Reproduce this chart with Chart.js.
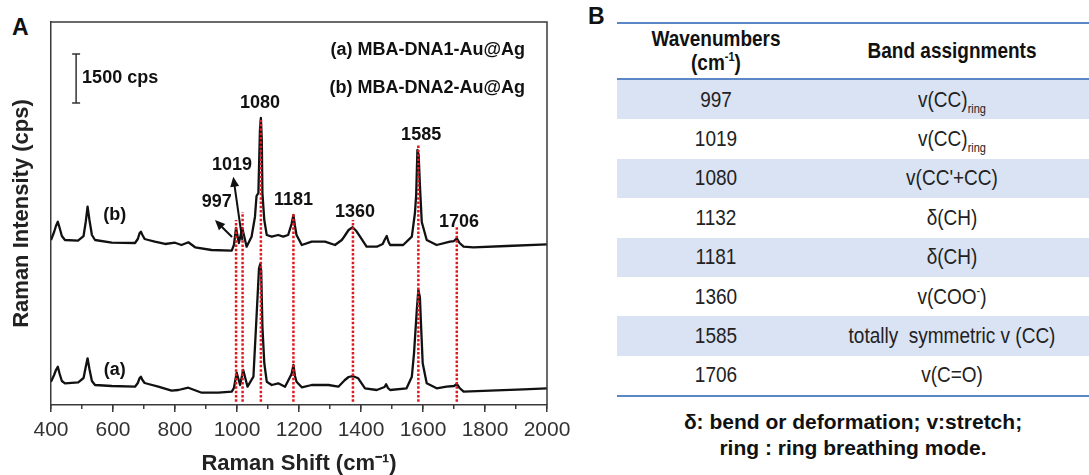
<!DOCTYPE html>
<html>
<head>
<meta charset="utf-8">
<script src="https://cdn.jsdelivr.net/npm/chart.js@4.4.1/dist/chart.umd.min.js"></script>
<style>
  html, body { margin:0; padding:0; background:#fff; }
  body { width:1089px; height:475px; position:relative; overflow:hidden; font-family:Arial, "Liberation Sans", sans-serif; color:#222; }
  #panelA { position:absolute; left:0; top:0; width:580px; height:475px; }
  .letter { position:absolute; font-weight:bold; font-size:23px; color:#111; }
  #bandTable { position:absolute; left:617px; top:22px; width:472px; border-collapse:collapse; }
  #bandTable th, #bandTable td { text-align:center; padding:0; font-size:19px; color:#222; }
  #bandTable th { font-weight:bold; color:#111; height:54px; line-height:20px; }
  #bandTable td { height:39.4px; }
  #bandTable thead tr { border-top:2.5px solid #5b87c7; border-bottom:2.5px solid #5b87c7; }
  #bandTable tbody tr:last-child { border-bottom:2.5px solid #5b87c7; }
  #bandTable tbody tr:nth-child(odd) { background:#dae3f3; }
  .t { display:inline-block; transform:scaleY(1.18); }
  sub, sup { font-size:11px; line-height:0; color:inherit; }
  #note { position:absolute; left:617px; width:472px; top:409px; text-align:center; font-weight:bold; font-size:21px; line-height:26px; color:#111; }
</style>
</head>
<body>
<div class="letter" style="left:12px;top:14px">A</div>
<div id="panelA"><canvas id="raman"></canvas></div>

<div class="letter" style="left:588px;top:3px">B</div>
<table id="bandTable">
  <thead><tr><th style="width:198px"><span class="t">Wavenumbers<br>(cm<sup>-1</sup>)</span></th><th><span class="t">Band assignments</span></th></tr></thead>
  <tbody id="bandBody"></tbody>
</table>
<div id="note">δ: bend or deformation; v:stretch;<br>ring : ring breathing mode.</div>

<script>
// ---- spectrum (b) MBA-DNA2-Au@Ag, offset upward ----
const waveB = [400,410,416,422,428,435,445,487,505,512,518,524,532,542,596,671,680,686,690,695,702,714,735,768,800,821,843,865,918,983,990,997,1006,1017,1031,1047,1058,1063,1069,1074,1077,1080,1082,1088,1096,1112,1133,1149,1165,1176,1182,1187,1192,1209,1241,1284,1316,1338,1345,1360,1373,1385,1397,1418,1451,1470,1476,1483,1489,1494,1536,1564,1574,1578,1582,1586,1590,1596,1612,1644,1687,1700,1709,1718,1731,1762,1870,2000];
const intensB = [5049,5294,5477,5609,5416,5171,5049,5028,5171,5600,6068,5661,5202,5049,4966,4957,5080,5263,5303,5202,5080,5049,4997,4927,4966,4896,4979,4826,4743,4722,4896,5416,4957,5416,4844,5150,5762,6395,6487,8415,8782,8109,6487,5661,5202,5150,5202,5150,5202,5539,5814,5477,5202,4896,4997,4997,4896,5049,5141,5355,5438,5324,5150,4844,4844,4927,5049,5171,4988,4896,4896,5150,5875,6426,7803,7650,6732,5600,5049,4896,4997,5018,5101,4957,4844,4826,4865,4917];

// ---- spectrum (a) MBA-DNA1-Au@Ag ----
const waveA = [400,410,416,422,428,435,445,488,505,512,518,524,532,542,596,671,680,686,690,695,702,714,746,789,811,843,886,940,983,990,999,1010,1020,1034,1053,1063,1071,1075,1078,1082,1088,1096,1112,1133,1155,1176,1182,1187,1192,1209,1241,1295,1327,1348,1360,1373,1391,1413,1451,1476,1481,1487,1494,1547,1564,1571,1580,1585,1590,1593,1599,1612,1644,1676,1700,1709,1718,1731,1816,1924,2000];
const intensA = [713,918,1071,1172,949,734,664,695,826,1163,1429,1102,735,612,581,560,673,826,866,765,673,643,560,438,459,529,376,376,407,520,988,612,1071,560,866,2702,4183,4315,4100,2396,1285,713,612,664,560,949,1224,887,713,542,612,612,560,765,857,887,817,511,459,551,633,520,459,511,866,1582,2907,3519,3300,2601,1276,664,511,560,582,643,520,407,438,480,511];

// ---- marked bands (red dotted guides) ----
const bandWave = [997,1018,1077,1182,1374,1585,1709];
const bandTop = [5661,5906,8721,5875,5661,7956,5447];
const bandBase = 100;
const bandText = ['997','1019','1080','1181','1360','1585','1706'];
const bandTextWave = [935,984,1074,1182,1381,1594,1716];
const bandTextY = [6212,7344,9241,6273,5906,8262,5600];

const xTicks = [400,600,800,1000,1200,1400,1600,1800,2000];

// ---- table B ----
const tableWave = ['997','1019','1080','1132','1181','1360','1585','1706'];
const tableBand = ['v(CC)<sub>ring</sub>','v(CC)<sub>ring</sub>',"v(CC'+CC)",'δ(CH)','δ(CH)','v(COO<sup>-</sup>)','totally&nbsp; symmetric v (CC)','v(C=O)'];

document.getElementById('bandBody').innerHTML = tableWave.map((w,i) =>
  `<tr><td><span class="t">${w}</span></td><td><span class="t">${tableBand[i]}</span></td></tr>`
).join('');

Chart.defaults.font.family = 'Arial, "Liberation Sans", sans-serif';
const INK = '#111';
const AXIS = '#3a3a3a';
const RED = '#e3171f';

// labels, arrows, scale bar and legend text, positioned in data units
const notes = {
  arrows: [ {from:[984,5141], to:[929,5661]}, {from:[1017,5049], to:[988,6986]} ],
  curveTags: [ {text:'(b)', x:606, y:5814}, {text:'(a)', x:606, y:1071} ],
  legend: [ {text:'(a) MBA-DNA1-Au@Ag', x:1929, y:10863}, {text:'(b) MBA-DNA2-Au@Ag', x:1929, y:9700} ],
  scaleBar: {x:481, y0:9241, size:1500, text:'1500 cps'}
};

const annotate = {
  id: 'annotate',
  afterDatasetsDraw(chart) {
    const {ctx, scales:{x, y}} = chart;
    ctx.save();
    ctx.fillStyle = INK; ctx.strokeStyle = INK;
    ctx.font = 'bold 18px Arial, "Liberation Sans", sans-serif';
    ctx.textAlign = 'center'; ctx.textBaseline = 'middle';
    bandText.forEach((t,i) => ctx.fillText(t, x.getPixelForValue(bandTextWave[i]), y.getPixelForValue(bandTextY[i])));

    notes.curveTags.forEach(n => ctx.fillText(n.text, x.getPixelForValue(n.x), y.getPixelForValue(n.y)));

    ctx.textAlign = 'right';
    notes.legend.forEach(n => ctx.fillText(n.text, x.getPixelForValue(n.x), y.getPixelForValue(n.y)));

    // arrows
    ctx.lineWidth = 2;
    notes.arrows.forEach(a => {
      const x1 = x.getPixelForValue(a.from[0]), y1 = y.getPixelForValue(a.from[1]);
      const x2 = x.getPixelForValue(a.to[0]), y2 = y.getPixelForValue(a.to[1]);
      const ang = Math.atan2(y2-y1, x2-x1), L = 11;
      ctx.beginPath(); ctx.moveTo(x1,y1);
      ctx.lineTo(x2 - Math.cos(ang)*L*0.7, y2 - Math.sin(ang)*L*0.7); ctx.stroke();
      ctx.beginPath(); ctx.moveTo(x2,y2);
      ctx.lineTo(x2 - L*Math.cos(ang-0.42), y2 - L*Math.sin(ang-0.42));
      ctx.lineTo(x2 - L*Math.cos(ang+0.42), y2 - L*Math.sin(ang+0.42));
      ctx.closePath(); ctx.fill();
    });

    // scale bar
    const sb = notes.scaleBar;
    const sx = x.getPixelForValue(sb.x), sy0 = y.getPixelForValue(sb.y0), sy1 = y.getPixelForValue(sb.y0 + sb.size);
    ctx.strokeStyle = '#333'; ctx.lineWidth = 1.5;
    ctx.beginPath();
    ctx.moveTo(sx, sy0); ctx.lineTo(sx, sy1);
    ctx.moveTo(sx-4, sy0); ctx.lineTo(sx+4, sy0);
    ctx.moveTo(sx-4, sy1); ctx.lineTo(sx+4, sy1);
    ctx.stroke();
    ctx.textAlign = 'left';
    ctx.fillText(sb.text, sx + 6, (sy0 + sy1) / 2);
    ctx.restore();
  },
  afterDraw(chart) {
    const {ctx, chartArea:a} = chart;
    ctx.save();
    ctx.strokeStyle = AXIS; ctx.lineWidth = 1.5;
    ctx.beginPath();
    ctx.moveTo(a.left, a.top); ctx.lineTo(a.right, a.top); ctx.lineTo(a.right, a.bottom);
    ctx.stroke();
    ctx.restore();
  }
};

const guideSets = bandWave.map((w,i) => ({
  data: [{x:w, y:bandBase}, {x:w, y:bandTop[i]}],
  borderColor: RED, borderWidth: 2.5, borderDash: [2.5,1.8],
  pointRadius: 0, order: 0
}));

new Chart(document.getElementById('raman'), {
  type: 'line',
  data: {
    datasets: [
      ...guideSets,
      { label:'(b)', data: waveB.map((w,i)=>({x:w, y:intensB[i]})), borderColor:INK, borderWidth:2.3, pointRadius:0, tension:0, borderJoinStyle:'round', order:1 },
      { label:'(a)', data: waveA.map((w,i)=>({x:w, y:intensA[i]})), borderColor:INK, borderWidth:2.3, pointRadius:0, tension:0, borderJoinStyle:'round', order:1 },
    ]
  },
  options: {
    responsive: true, maintainAspectRatio: false, animation: false,
    layout: { padding: { top:22, right:33, left:0, bottom:0 } },
    plugins: { legend:{display:false}, tooltip:{enabled:false} },
    scales: {
      x: {
        type:'linear', position:'bottom', min:400, max:2000, weight:1,
        afterBuildTicks: s => { s.ticks = xTicks.map(v => ({value:v})); },
        afterFit: s => { s.height = 70; },
        ticks: { color:'#333', font:{size:21}, padding:6, autoSkip:false, maxRotation:0, callback: v => String(v) },
        grid: { drawOnChartArea:false, drawTicks:true, tickLength:7, color:AXIS, lineWidth:1.5 },
        border: { color:AXIS, width:1.5 },
        title: { display:true, text:'Raman Shift (cm⁻¹)', color:'#222', font:{size:22, weight:'bold', lineHeight:1.0}, padding:{top:0, bottom:0} }
      },
      xMinor: {
        type:'linear', position:'bottom', min:400, max:2000, weight:0,
        afterFit: s => { s.height = 0; },
        ticks: { display:false, stepSize:100 },
        grid: { drawOnChartArea:false, drawTicks:true, tickLength:4, color:AXIS, lineWidth:1.5 },
        border: { display:false }
      },
      y: {
        min:0, max:11720,
        afterFit: s => { s.width = 51; },
        ticks: { display:false },
        grid: { display:false },
        border: { color:AXIS, width:1.5 },
        title: { display:true, text:'Raman Intensity (cps)', color:'#222', font:{size:22, weight:'bold', lineHeight:1.2}, padding:{top:9} }
      }
    }
  },
  plugins: [annotate]
});
</script>
</body>
</html>
